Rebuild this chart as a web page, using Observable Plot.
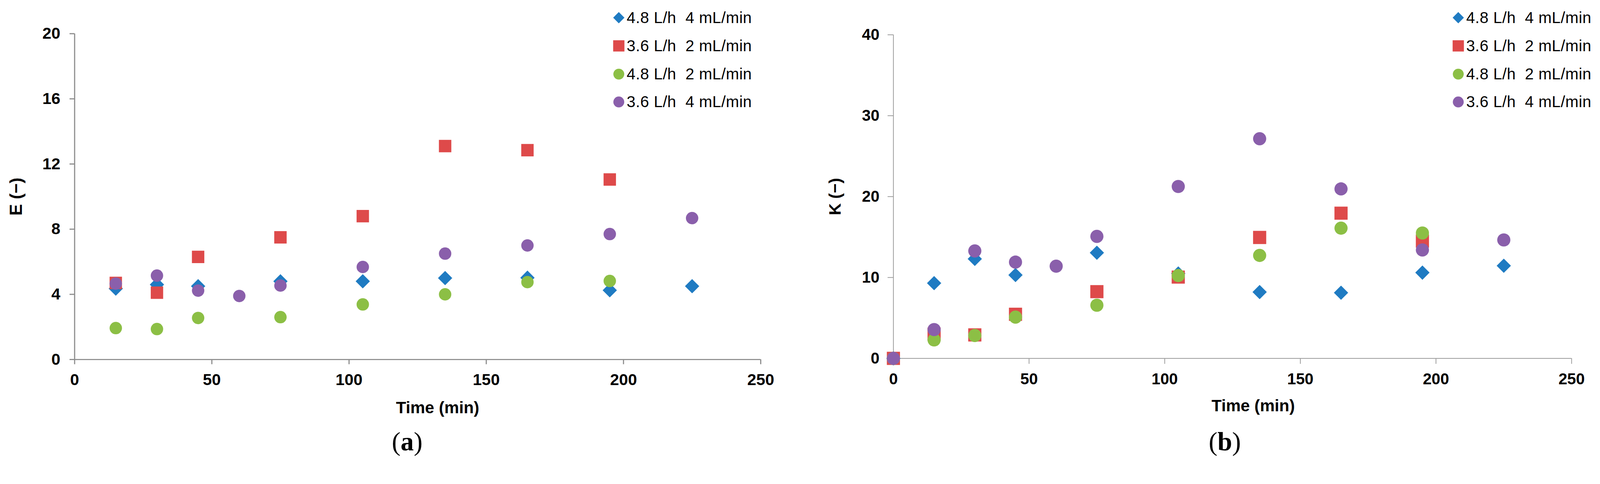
<!DOCTYPE html>
<html>
<head>
<meta charset="utf-8">
<script src="https://cdn.jsdelivr.net/npm/d3@7"></script>
<script src="https://cdn.jsdelivr.net/npm/@observablehq/plot@0.6"></script>
<style>
html, body { margin: 0; padding: 0; background: #fff; overflow: hidden; }
#root { position: absolute; left: 0; top: 0; width: 4256px; height: 1238px; overflow: hidden; font-family: "Liberation Sans", Arial, sans-serif; background: #fff; transform-origin: 0 0; }
.panel { position: absolute; top: 0; width: 2128px; height: 1238px; }
.panel svg { position: absolute; left: 0; top: 0; max-width: none !important; }
.lrow { position: absolute; white-space: pre; font-size: 42px; line-height: 42px; color: #000; letter-spacing: 0.5px; }
.mk { position: absolute; }
.caption { position: absolute; font-family: "Liberation Serif", "Times New Roman", serif; font-size: 70px; line-height: 70px; color: #000; white-space: pre; transform: translateX(-50%); }
</style>
</head>
<body>
<div id="root"></div>
<script>
// ---------- series (legend) ----------
const seriesNames = ["4.8 L/h  4 mL/min", "3.6 L/h  2 mL/min", "4.8 L/h  2 mL/min", "3.6 L/h  4 mL/min"];
const seriesColors = ["#1f7bc2", "#de4a4a", "#8cbf45", "#8a5fab"];
const seriesSymbols = ["diamond2", "square", "circle", "circle"];

// ---------- axes ----------
const xTicks = [0, 50, 100, 150, 200, 250];
const yTicksA = [0, 4, 8, 12, 16, 20];
const yTicksB = [0, 10, 20, 30, 40];

// ---------- panel (a): E (−) ----------
const tA1 = [15, 30, 45, 75, 105, 135, 165, 195, 225];
const eA1 = [4.35, 4.6, 4.5, 4.8, 4.8, 5.0, 5.02, 4.25, 4.5];
const tA2 = [15, 30, 45, 75, 105, 135, 165, 195];
const eA2 = [4.7, 4.1, 6.3, 7.5, 8.8, 13.1, 12.85, 11.05];
const tA3 = [15, 30, 45, 75, 105, 135, 165, 195];
const eA3 = [1.93, 1.87, 2.55, 2.6, 3.38, 4.0, 4.75, 4.82];
const tA4 = [15, 30, 45, 60, 75, 105, 135, 165, 195, 225];
const eA4 = [4.66, 5.15, 4.23, 3.9, 4.54, 5.68, 6.5, 7.0, 7.7, 8.68];

// ---------- panel (b): K (−) ----------
const tB1 = [0, 15, 30, 45, 75, 105, 135, 165, 195, 225];
const kB1 = [0, 9.3, 12.3, 10.3, 13.06, 10.5, 8.2, 8.12, 10.6, 11.45];
const tB2 = [0, 15, 30, 45, 75, 105, 135, 165, 195];
const kB2 = [0, 3.0, 2.9, 5.45, 8.25, 10.05, 14.95, 17.95, 14.5];
const tB3 = [0, 15, 30, 45, 75, 105, 135, 165, 195];
const kB3 = [0, 2.28, 2.83, 5.1, 6.57, 10.24, 12.73, 16.1, 15.5];
const tB4 = [0, 15, 30, 45, 60, 75, 105, 135, 165, 195, 225];
const kB4 = [0, 3.56, 13.28, 11.9, 11.4, 15.08, 21.25, 27.15, 20.95, 13.4, 14.64];

const toRows = (ts, vs) => ts.map((t, i) => ({t, v: vs[i]}));
const seriesA = [toRows(tA1, eA1), toRows(tA2, eA2), toRows(tA3, eA3), toRows(tA4, eA4)];
const seriesB = [toRows(tB1, kB1), toRows(tB2, kB2), toRows(tB3, kB3), toRows(tB4, kB4)];

function symbolR(sym, size) {
  if (sym === "square") return size / Math.sqrt(Math.PI);
  if (sym === "diamond2") return size / 2 / (0.62625 * Math.sqrt(Math.PI));
  return size / 2;
}

function makePanel(cfg) {
  const marks = [];
  marks.push(Plot.ruleX([0], {stroke: cfg.axisColor, strokeWidth: cfg.axisWidth}));
  marks.push(Plot.ruleY([0], {stroke: cfg.axisColor, strokeWidth: cfg.axisWidth}));
  marks.push(Plot.axisX(xTicks, {tickSize: cfg.tickSize, tickPadding: cfg.xPad, stroke: cfg.axisColor, strokeWidth: cfg.axisWidth, label: null, fontSize: cfg.tickFont, fontWeight: "bold"}));
  marks.push(Plot.axisY(cfg.yTicks, {tickSize: cfg.tickSize, tickPadding: cfg.yPad, stroke: cfg.axisColor, strokeWidth: cfg.axisWidth, label: null, fontSize: cfg.tickFont, fontWeight: "bold"}));
  cfg.series.forEach((rows, i) => {
    const sym = seriesSymbols[i];
    const size = sym === "diamond2" ? cfg.diamondSize : cfg.markSize;
    marks.push(Plot.dot(rows, {x: "t", y: "v", symbol: sym, fill: seriesColors[i], stroke: "none", r: symbolR(sym, size)}));
  });
  marks.push(Plot.text([cfg.xTitle], {text: d => d, frameAnchor: "bottom", lineAnchor: "bottom", dx: cfg.xTitleDx, dy: cfg.xTitleDy, fontWeight: "bold", fontSize: 44}));
  marks.push(Plot.text([cfg.yTitle], {text: d => d, frameAnchor: "left", lineAnchor: "top", rotate: -90, textAnchor: "middle", dx: cfg.yTitleDx, fontWeight: "bold", fontSize: cfg.yTitleFont}));
  return Plot.plot({
    width: 2128,
    height: 1120,
    marginLeft: cfg.ml,
    marginRight: cfg.mr,
    marginTop: cfg.mt,
    marginBottom: 1120 - cfg.yBottom,
    x: {domain: [0, 250], label: null},
    y: {domain: [0, cfg.yMax], label: null},
    style: {fontFamily: "'Liberation Sans', Arial, sans-serif", fontSize: cfg.tickFont + "px", color: "#000", background: "transparent", overflow: "visible"},
    marks
  });
}

function legendHTML(panel, markerX, textX) {
  const rowCenters = [47, 122, 197, 271];
  seriesNames.forEach((name, i) => {
    const cy = rowCenters[i];
    const mk = document.createElementNS("http://www.w3.org/2000/svg", "svg");
    mk.setAttribute("width", 40); mk.setAttribute("height", 40);
    mk.setAttribute("class", "mk");
    mk.style.left = (markerX - 20) + "px"; mk.style.top = (cy - 20) + "px";
    const sym = seriesSymbols[i];
    const d = sym === "diamond2" ? d3.symbol(d3.symbolDiamond2, (15 / 0.62625) ** 2)()
            : sym === "square" ? d3.symbol(d3.symbolSquare, 30 * 30)()
            : d3.symbol(d3.symbolCircle, Math.PI * 14.5 * 14.5)();
    const p = document.createElementNS("http://www.w3.org/2000/svg", "path");
    p.setAttribute("d", d); p.setAttribute("transform", "translate(20,20)"); p.setAttribute("fill", seriesColors[i]);
    mk.appendChild(p);
    panel.appendChild(mk);
    const t = document.createElement("div");
    t.className = "lrow";
    t.textContent = name;
    t.style.left = textX + "px"; t.style.top = (cy - 21) + "px";
    panel.appendChild(t);
  });
}

function caption(panel, cx, letter) {
  const c = document.createElement("div");
  c.className = "caption";
  c.style.left = cx + "px"; c.style.top = "1139px";
  c.innerHTML = "(<b>" + letter + "</b>)";
  panel.appendChild(c);
}

const root = document.getElementById("root");

const pa = document.createElement("div"); pa.className = "panel"; pa.style.left = "0px"; root.appendChild(pa);
pa.appendChild(makePanel({
  series: seriesA, yTicks: yTicksA, yMax: 20,
  ml: 198, mr: 2128 - 2023, mt: 89, yBottom: 955,
  axisColor: "#8c8c8c", axisWidth: 3, tickSize: 13, xPad: 24, yPad: 25, tickFont: 43,
  markSize: 33, diamondSize: 38,
  xTitle: "Time (min)", xTitleDx: 53, xTitleDy: 143,
  yTitle: "E (−)", yTitleDx: -173, yTitleFont: 46
}));
legendHTML(pa, 1646, 1667);
caption(pa, 1083, "a");

const pb = document.createElement("div"); pb.className = "panel"; pb.style.left = "2128px"; root.appendChild(pb);
pb.appendChild(makePanel({
  series: seriesB, yTicks: yTicksB, yMax: 40,
  ml: 2376 - 2128, mr: 2128 - (4180 - 2128), mt: 92, yBottom: 952,
  axisColor: "#9a9a9a", axisWidth: 2, tickSize: 15, xPad: 24, yPad: 22, tickFont: 42,
  markSize: 35, diamondSize: 38,
  xTitle: "Time (min)", xTitleDx: 55, xTitleDy: 141,
  yTitle: "K (−)", yTitleDx: -172, yTitleFont: 44
}));
legendHTML(pb, 3879 - 2128, 3900 - 2128);
caption(pb, 3258 - 2128, "b");

// fit the 4256×1238 design into the actual viewport
function fit() {
  const vw = document.documentElement.clientWidth || window.innerWidth;
  const vh = document.documentElement.clientHeight || window.innerHeight;
  const s = Math.min(vw / 4256, vh / 1238);
  root.style.transform = (s > 0 && Math.abs(s - 1) > 0.002) ? "scale(" + s + ")" : "none";
}
fit();
window.addEventListener("resize", fit);
</script>
</body>
</html>
